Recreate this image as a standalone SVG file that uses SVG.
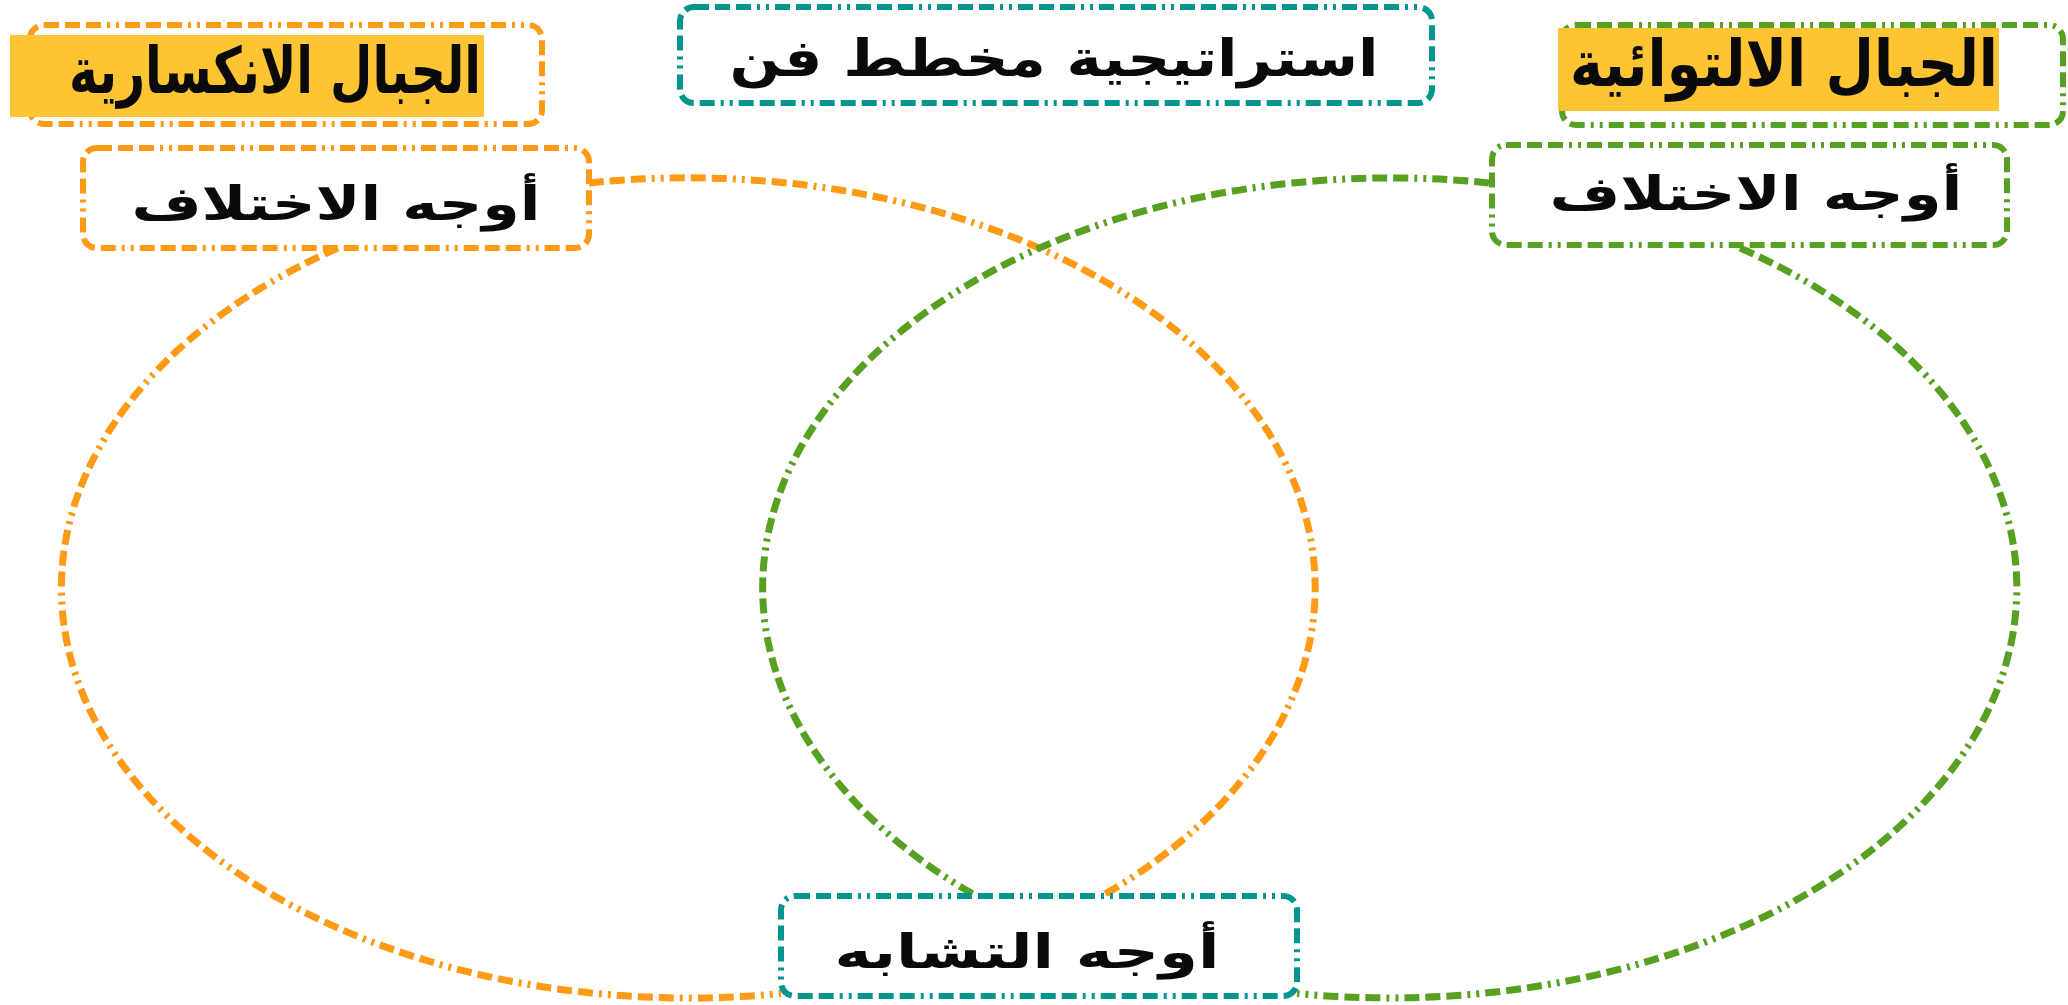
<svg xmlns="http://www.w3.org/2000/svg" width="2068" height="1005" viewBox="0 0 2068 1005">
<style>
.bx{fill:#ffffff;stroke-width:6;stroke-dasharray:15 6 15 6 15 6 3 6 3 6;stroke-linejoin:round}
.ln{fill:none;stroke-width:7;stroke-dasharray:15 6 15 6 15 6 3 6 3 6}
.o{stroke:#FD9A16}
.g{stroke:#58A021}
.t{stroke:#00968F}
.hl{fill:#FDC433}
.lbl{font-family:"DejaVu Sans",sans-serif;font-weight:bold;fill:#0a0a0a;text-anchor:middle}
.hd{font-family:"DejaVu Sans",sans-serif;font-weight:bold;fill:#0a0a0a;text-anchor:middle}
</style>
<rect width="2068" height="1005" fill="#ffffff"/>
<g id="connectors">
<path class="ln o" d="M 589 183 A 627 410 0 0 1 1100 897"/>
<path class="ln o" d="M 338 248 A 627 410 0 0 0 781 993.5"/>
<path class="ln g" d="M 1489 183 A 628 410 0 0 0 978 897"/>
<path class="ln g" d="M 1740 248 A 628 410 0 0 1 1297 993.5"/>
</g>
<g id="title">
<rect class="bx t" x="680" y="7" width="752" height="96" rx="14"/>
<text class="lbl" x="1054" y="76" font-size="51" textLength="649" lengthAdjust="spacingAndGlyphs">استراتيجية مخطط فن</text>
</g>
<g id="heading-left">
<rect class="bx o" x="30" y="25" width="512" height="99" rx="14"/>
<rect class="hl" x="10" y="35" width="474" height="82"/>
<text class="hd" x="275" y="93" font-size="64" textLength="412" lengthAdjust="spacingAndGlyphs">الجبال الانكسارية</text>
</g>
<g id="heading-right">
<rect class="bx g" x="1562" y="25" width="501" height="100" rx="14"/>
<rect class="hl" x="1558" y="28" width="441" height="83"/>
<text class="hd" x="1784" y="86" font-size="64" textLength="428" lengthAdjust="spacingAndGlyphs">الجبال الالتوائية</text>
</g>
<g id="diff-left">
<rect class="bx o" x="83" y="148" width="506" height="100" rx="14"/>
<text class="lbl" x="336" y="220" font-size="47" textLength="409" lengthAdjust="spacingAndGlyphs">أوجه الاختلاف</text>
</g>
<g id="diff-right">
<rect class="bx g" x="1492" y="145" width="515" height="100" rx="14"/>
<text class="lbl" x="1756" y="210" font-size="47" textLength="413" lengthAdjust="spacingAndGlyphs">أوجه الاختلاف</text>
</g>
<g id="similar">
<rect class="bx t" x="781" y="896" width="516" height="100" rx="14"/>
<text class="lbl" x="1027" y="968" font-size="47" textLength="385" lengthAdjust="spacingAndGlyphs">أوجه التشابه</text>
</g>
</svg>
